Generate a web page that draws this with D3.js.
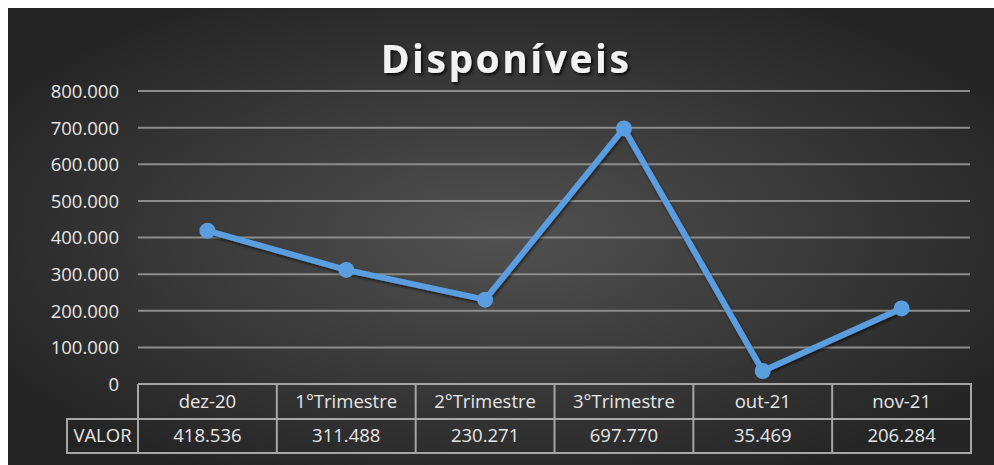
<!DOCTYPE html>
<html><head><meta charset="utf-8">
<script src="https://cdn.jsdelivr.net/npm/d3@7"></script>
<style>html,body{margin:0;padding:0;background:#fff;}svg{display:block;}</style>
</head><body>
<svg id="c" width="994" height="465"></svg>
<script>
const title = "Disponíveis";
const categories = ["dez-20","1°Trimestre","2°Trimestre","3°Trimestre","out-21","nov-21"];
const values = [418536, 311488, 230271, 697770, 35469, 206284];
const valueLabels = ["418.536","311.488","230.271","697.770","35.469","206.284"];
const yTicks = [0,100000,200000,300000,400000,500000,600000,700000,800000];
const rowLabel = "VALOR";

const svg = d3.select("#c");
const W = 994, H = 465;
const font = "'Open Sans', 'Liberation Sans', sans-serif";
const defs = svg.append("defs");
const rg = defs.append("radialGradient").attr("id","bg").attr("cx","50%").attr("cy","50%").attr("r","60%");
rg.append("stop").attr("offset","0%").attr("stop-color","#515151");
rg.append("stop").attr("offset","100%").attr("stop-color","#242424");
const sh = defs.append("filter").attr("id","ts").attr("x","-10%").attr("y","-20%").attr("width","120%").attr("height","150%");
sh.append("feDropShadow").attr("dx",2).attr("dy",2).attr("stdDeviation",1.5).attr("flood-color","#000").attr("flood-opacity",0.8);
const ls = defs.append("filter").attr("id","ls").attr("x","-10%").attr("y","-10%").attr("width","120%").attr("height","120%");
ls.append("feDropShadow").attr("dx",1).attr("dy",2).attr("stdDeviation",1.5).attr("flood-color","#000").attr("flood-opacity",0.6);

svg.append("rect").attr("x",8).attr("y",8).attr("width",W-8).attr("height",H-8).attr("fill","url(#bg)");

svg.append("text").attr("x",506).attr("y",73).attr("text-anchor","middle")
  .attr("font-family",font).attr("font-weight","bold").attr("font-size",39)
  .attr("letter-spacing",2.5).attr("fill","#f2f2f2").attr("filter","url(#ts)").text(title);

const x0 = 138, x1 = 971;
const x = d3.scaleBand().domain(categories).range([x0,x1]).padding(0);
const y = d3.scaleLinear().domain([0,800000]).range([384,91]);

const fmt = v => v === 0 ? "0" : d3.format(",.0f")(v/1000).replace(/,/g,".") + ".000";

// gridlines
svg.append("g").selectAll("line").data(yTicks.filter(t=>t>0)).join("line")
  .attr("x1",x0).attr("x2",x1-1).attr("y1",d=>y(d)).attr("y2",d=>y(d))
  .attr("stroke","#8c8c8c").attr("stroke-width",2);

// y labels
const yAxis = d3.axisLeft(y).tickValues(yTicks).tickSize(0).tickPadding(0).tickFormat(fmt);
const ga = svg.append("g").attr("transform","translate(119,0)").call(yAxis);
ga.select(".domain").remove();
ga.selectAll("text").attr("font-family",font).attr("font-size",18.5).attr("fill","#e6e6e6").attr("dy","0.35em");

// line
const line = d3.line().x((d,i)=>x(categories[i])+x.bandwidth()/2).y(d=>y(d));
svg.append("path").datum(values).attr("d",line).attr("fill","none")
  .attr("stroke","#5a9ee0").attr("stroke-width",6).attr("stroke-linejoin","round").attr("filter","url(#ls)");
svg.append("g").selectAll("circle").data(values).join("circle")
  .attr("cx",(d,i)=>x(categories[i])+x.bandwidth()/2).attr("cy",d=>y(d)).attr("r",8)
  .attr("fill","#5a9ee0");

// data table
const tTop = 384, tMid = 419, tBot = 453, lx = 67;
const tg = svg.append("g").attr("stroke","#a6a6a6").attr("stroke-width",2).attr("fill","none");
tg.append("path").attr("d",`M${x0},${tTop}H${x1}V${tBot}H${lx}V${tMid}H${x1}`);
tg.append("line").attr("x1",x0).attr("x2",x0).attr("y1",tTop).attr("y2",tBot);
tg.selectAll("line.v").data(categories.slice(1)).join("line").attr("class","v")
  .attr("x1",d=>x(d)).attr("x2",d=>x(d)).attr("y1",tTop).attr("y2",tBot);

const txt = svg.append("g").attr("font-family",font).attr("font-size",18.5).attr("fill","#e6e6e6").attr("text-anchor","middle");
txt.selectAll("text.h").data(categories).join("text").attr("class","h")
  .attr("x",d=>x(d)+x.bandwidth()/2).attr("y",(tTop+tMid)/2).attr("dy","0.35em").text(d=>d);
txt.selectAll("text.v").data(valueLabels).join("text").attr("class","v")
  .attr("x",(d,i)=>x(categories[i])+x.bandwidth()/2).attr("y",(tMid+tBot)/2).attr("dy","0.35em").text(d=>d);
txt.append("text").attr("x",(lx+x0)/2).attr("y",(tMid+tBot)/2).attr("dy","0.35em").text(rowLabel);
</script>
</body></html>
